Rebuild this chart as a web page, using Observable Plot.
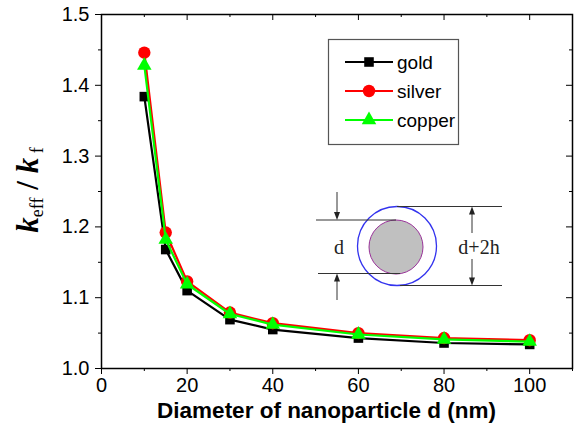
<!DOCTYPE html>
<html><head><meta charset="utf-8">
<script src="https://cdn.jsdelivr.net/npm/d3@7"></script>
<script src="https://cdn.jsdelivr.net/npm/@observablehq/plot@0.6"></script>
<style>body{margin:0;background:#fff} svg{display:block}</style>
</head><body><div id="chart"></div>
<script>
const diameters = [10, 15, 20, 30, 40, 60, 80, 100];
const gold   = [1.384, 1.168, 1.110, 1.069, 1.055, 1.043, 1.036, 1.034];
const silver = [1.446, 1.192, 1.123, 1.079, 1.064, 1.050, 1.043, 1.040];
const copper = [1.428, 1.182, 1.119, 1.077, 1.062, 1.048, 1.041, 1.038];
const seriesNames = ["gold", "silver", "copper"];
const seriesColors = ["#000000", "#ff0000", "#00ff00"];
const seriesSymbols = ["square", "circle", "triangle"];
const xMajor = [0, 20, 40, 60, 80, 100];
const xMinor = [10, 30, 50, 70, 90, 110];
const yMajor = [1.0, 1.1, 1.2, 1.3, 1.4, 1.5];
const yMinor = [1.05, 1.15, 1.25, 1.35, 1.45];
const xLabel = "Diameter of nanoparticle d (nm)";

const W = 575, H = 436, mL = 101, mR = 3, mT = 14, mB = 68;
const fw = W - mL - mR, fh = H - mT - mB;
const allValues = [gold, silver, copper];
const rows = seriesNames.map((s, j) => diameters.map((d, i) => ({series: s, d, k: allValues[j][i]})));
const symR = [5.4, 6.2, 5.4];

const marks = [];
rows.forEach((r, j) => {
  marks.push(Plot.line(r, {x: "d", y: "k", stroke: seriesColors[j], strokeWidth: 2.2}));
  marks.push(Plot.dot(r, {x: "d", y: "k", symbol: seriesSymbols[j], r: symR[j], fill: seriesColors[j], stroke: "none"}));
});

const plot = Plot.plot({
  width: W, height: H, marginLeft: mL, marginRight: mR, marginTop: mT, marginBottom: mB,
  x: {domain: [0, 110]},
  y: {domain: [1.0, 1.5]},
  style: {fontFamily: "'Liberation Sans', Arial, sans-serif", fontSize: "20px", color: "#000", background: "#fff", overflow: "visible"},
  marks: [
    Plot.axisX(xMajor, {tickSize: 6, tickPadding: 3, tickFormat: d => String(d), label: null, fontSize: 20, strokeWidth: 1}),
    Plot.axisX(xMinor, {tickSize: 3, fill: "none", label: null}),
    Plot.axisY(yMajor, {tickSize: 6, tickPadding: 6, tickFormat: d3.format(".1f"), label: null, fontSize: 20}),
    Plot.axisY(yMinor, {tickSize: 3, fill: "none", label: null}),
    Plot.tickX(xMajor, {insetBottom: fh - 6, stroke: "#000"}),
    Plot.tickX(xMinor, {insetBottom: fh - 3, stroke: "#000"}),
    Plot.tickY(yMajor, {insetLeft: fw - 6, stroke: "#000"}),
    Plot.tickY(yMinor, {insetLeft: fw - 3, stroke: "#000"}),
    ...marks,
    Plot.frame({stroke: "#000", strokeWidth: 1.5})
  ]
});
document.getElementById("chart").appendChild(plot);

const svg = d3.select(plot);
// y label
const yl = svg.append("text")
  .attr("transform", "translate(38,190) rotate(-90)")
  .attr("text-anchor", "middle")
  .attr("font-family", "'Liberation Serif', 'Times New Roman', serif")
  .attr("font-weight", "bold")
  .attr("fill", "#000");
yl.append("tspan").attr("font-style", "italic").attr("font-size", 31).text("k");
yl.append("tspan").attr("font-size", 18).attr("dy", 5).attr("font-weight", "normal").text("eff");
yl.append("tspan").attr("font-size", 31).attr("dy", -5).text(" / ");
yl.append("tspan").attr("font-style", "italic").attr("font-size", 31).text("k");
yl.append("tspan").attr("font-size", 18).attr("dy", 5).attr("font-weight", "normal").text(" f");

// x label
svg.append("text")
  .attr("x", mL + fw / 2 - 10).attr("y", 418)
  .attr("text-anchor", "middle")
  .attr("font-family", "'Liberation Sans', Arial, sans-serif")
  .attr("font-weight", "bold").attr("font-size", 22.5)
  .attr("fill", "#000")
  .text(xLabel);

// legend
const lg = svg.append("g");
lg.append("rect").attr("x", 328.5).attr("y", 39.5).attr("width", 130).attr("height", 105)
  .attr("fill", "#fff").attr("stroke", "#555").attr("stroke-width", 1.2);
const lgY = [62, 91, 120];
const d3sym = {square: d3.symbolSquare, circle: d3.symbolCircle, triangle: d3.symbolTriangle};
seriesNames.forEach((s, j) => {
  lg.append("line").attr("x1", 345).attr("x2", 393).attr("y1", lgY[j]).attr("y2", lgY[j])
    .attr("stroke", seriesColors[j]).attr("stroke-width", 2.2);
  lg.append("path").attr("transform", `translate(369,${lgY[j]})`)
    .attr("d", d3.symbol().type(d3sym[seriesSymbols[j]]).size(Math.PI * symR[j] * symR[j])())
    .attr("fill", seriesColors[j]);
  lg.append("text").attr("x", 397).attr("y", lgY[j]).attr("dy", "0.35em")
    .attr("text-anchor", "start")
    .attr("font-size", 19).attr("fill", "#000").text(s);
});

// inset diagram
const ins = svg.append("g");
ins.append("circle").attr("cx", 396).attr("cy", 247).attr("r", 27)
  .attr("fill", "#c0c0c0").attr("stroke", "#993399").attr("stroke-width", 1);
ins.append("circle").attr("cx", 397).attr("cy", 246).attr("r", 39.5)
  .attr("fill", "none").attr("stroke", "#3333ee").attr("stroke-width", 1.3);
const hl = [[316, 396, 220], [318, 400, 273.5], [397, 502, 206.5], [400, 502, 285.5]];
hl.forEach(([a, b, y]) => ins.append("line").attr("x1", a).attr("x2", b).attr("y1", y).attr("y2", y)
  .attr("stroke", "#333").attr("stroke-width", 1));
function arrow(x, yFrom, yTo) {
  const dir = Math.sign(yTo - yFrom);
  ins.append("line").attr("x1", x).attr("x2", x).attr("y1", yFrom).attr("y2", yTo - dir * 6)
    .attr("stroke", "#333").attr("stroke-width", 1);
  ins.append("path").attr("d", `M${x},${yTo} L${x - 3},${yTo - dir * 8} L${x + 3},${yTo - dir * 8} Z`)
    .attr("fill", "#222");
}
arrow(337, 192, 220);
arrow(337, 300, 273.5);
arrow(472, 233, 206.5);
arrow(472, 259, 285.5);
ins.append("text").attr("x", 339).attr("y", 247).attr("dy", "0.35em").attr("text-anchor", "middle")
  .attr("font-family", "'Liberation Serif', 'Times New Roman', serif").attr("font-size", 20).attr("fill", "#222").text("d");
ins.append("text").attr("x", 479).attr("y", 247).attr("dy", "0.35em").attr("text-anchor", "middle")
  .attr("font-family", "'Liberation Serif', 'Times New Roman', serif").attr("font-size", 20).attr("fill", "#222").text("d+2h");
</script></body></html>
